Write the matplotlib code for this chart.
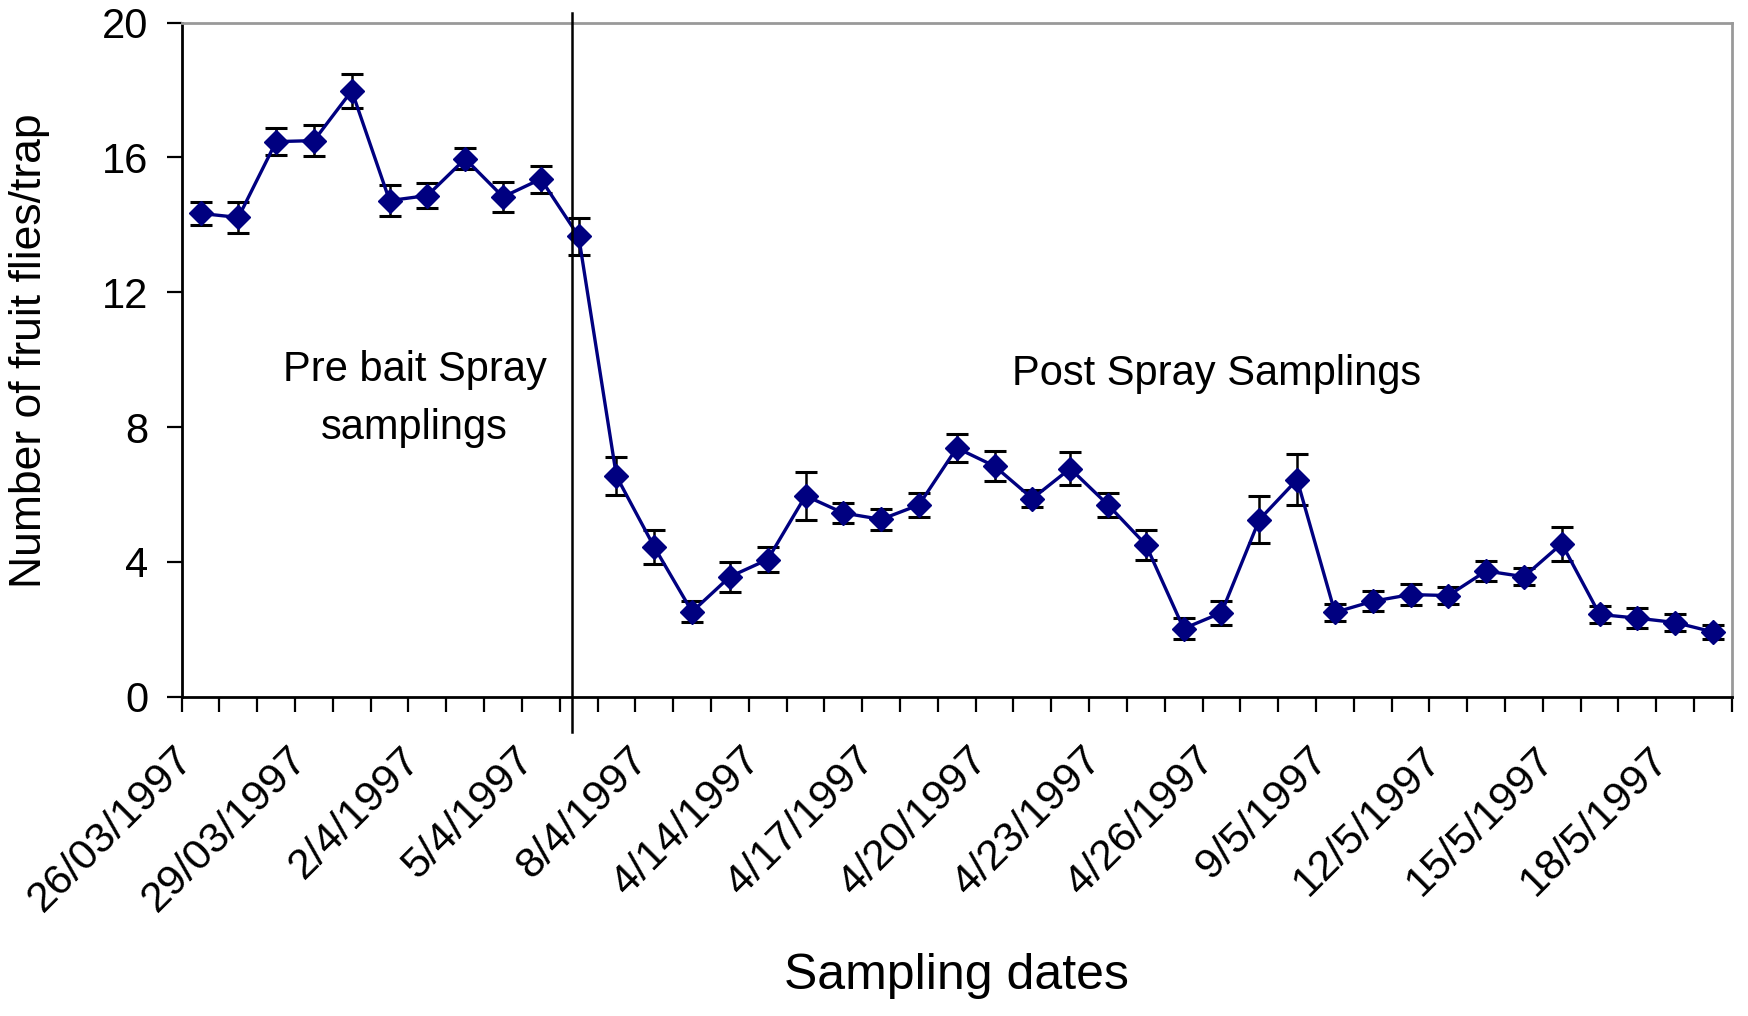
import numpy as np
import matplotlib
matplotlib.use('Agg')
import matplotlib.pyplot as plt
import matplotlib.transforms as mtransforms

plt.rcParams['font.family'] = ['Liberation Sans', 'DejaVu Sans']

# data (41 sampling dates)
means = [14.34, 14.22, 16.47, 16.50, 17.98, 14.72, 14.87, 15.96, 14.83, 15.36,
         13.66, 6.54, 4.44, 2.52, 3.56, 4.07, 5.96, 5.45, 5.26, 5.69,
         7.38, 6.84, 5.88, 6.77, 5.69, 4.51, 2.02, 2.49, 5.25, 6.44,
         2.50, 2.83, 3.03, 3.00, 3.73, 3.56, 4.54, 2.44, 2.33, 2.20, 1.92]
errors = [0.33, 0.46, 0.40, 0.45, 0.50, 0.46, 0.36, 0.31, 0.45, 0.40,
          0.55, 0.56, 0.50, 0.31, 0.45, 0.36, 0.72, 0.31, 0.31, 0.36,
          0.41, 0.45, 0.26, 0.50, 0.36, 0.45, 0.30, 0.36, 0.70, 0.76,
          0.26, 0.30, 0.30, 0.25, 0.30, 0.25, 0.50, 0.26, 0.30, 0.25, 0.20]
tick_labels = ['26/03/1997', '29/03/1997', '2/4/1997', '5/4/1997', '8/4/1997',
               '4/14/1997', '4/17/1997', '4/20/1997', '4/23/1997', '4/26/1997',
               '9/5/1997', '12/5/1997', '15/5/1997', '18/5/1997']
label_every = 3
spray_position = 9.83

x = np.arange(len(means))

fig = plt.figure(figsize=(17.48, 10.16), dpi=100)
ax = fig.add_axes([0.1039, 0.3143, 0.8869, 0.6634])

ax.errorbar(x, means, yerr=errors, color='#000080', ecolor='black',
            elinewidth=1.8, capsize=8, capthick=2.2, linewidth=2.4,
            marker='D', markersize=12.5, markerfacecolor='#000080',
            markeredgecolor='#000080', zorder=3)

# vertical separator between pre and post spray
ax.plot([spray_position, spray_position], [-1.05, 20.3], color='black',
        linewidth=1.8, clip_on=False, zorder=4)

ax.set_xlim(-0.5, len(means) - 0.5)
ax.set_ylim(0, 20)
ax.set_yticks(range(0, 21, 4))

# tick marks at category boundaries, labels at every third category
ax.set_xticks(x[::label_every])
ax.set_xticklabels(tick_labels, rotation=45, ha='right', va='center',
                   rotation_mode='anchor')
ax.set_xticks(np.arange(-0.5, len(means)), minor=True)
ax.tick_params(axis='x', which='major', length=0, pad=41, labelsize=31)
ax.tick_params(axis='x', which='minor', length=11, width=1.6,
               direction='out', color='black')
ax.tick_params(axis='y', length=11, width=1.6, direction='out',
               pad=13, labelsize=30)

offset = mtransforms.ScaledTranslation(-13 / 100, 0, fig.dpi_scale_trans)
for lab in ax.get_xticklabels():
    lab.set_transform(lab.get_transform() + offset)

for side in ['left', 'bottom']:
    ax.spines[side].set_color('black')
    ax.spines[side].set_linewidth(2.0)
for side in ['top', 'right']:
    ax.spines[side].set_color('#999999')
    ax.spines[side].set_linewidth(2.0)

ax.text(5.66, 9.36, 'Pre bait Spray', fontsize=30, ha='center', va='baseline')
ax.text(5.66, 7.64, 'samplings', fontsize=30, ha='center', va='baseline')
ax.text(26.87, 9.25, 'Post Spray Samplings', fontsize=30, ha='center',
        va='baseline')

fig.text(30 / 1748, 1 - 351 / 1016, 'Number of fruit flies/trap', fontsize=32,
         rotation=90, ha='center', va='center')
fig.text(956.7 / 1748, 1 - 989 / 1016, 'Sampling dates', fontsize=36,
         ha='center', va='baseline')

fig.savefig('out.png', dpi=100)
